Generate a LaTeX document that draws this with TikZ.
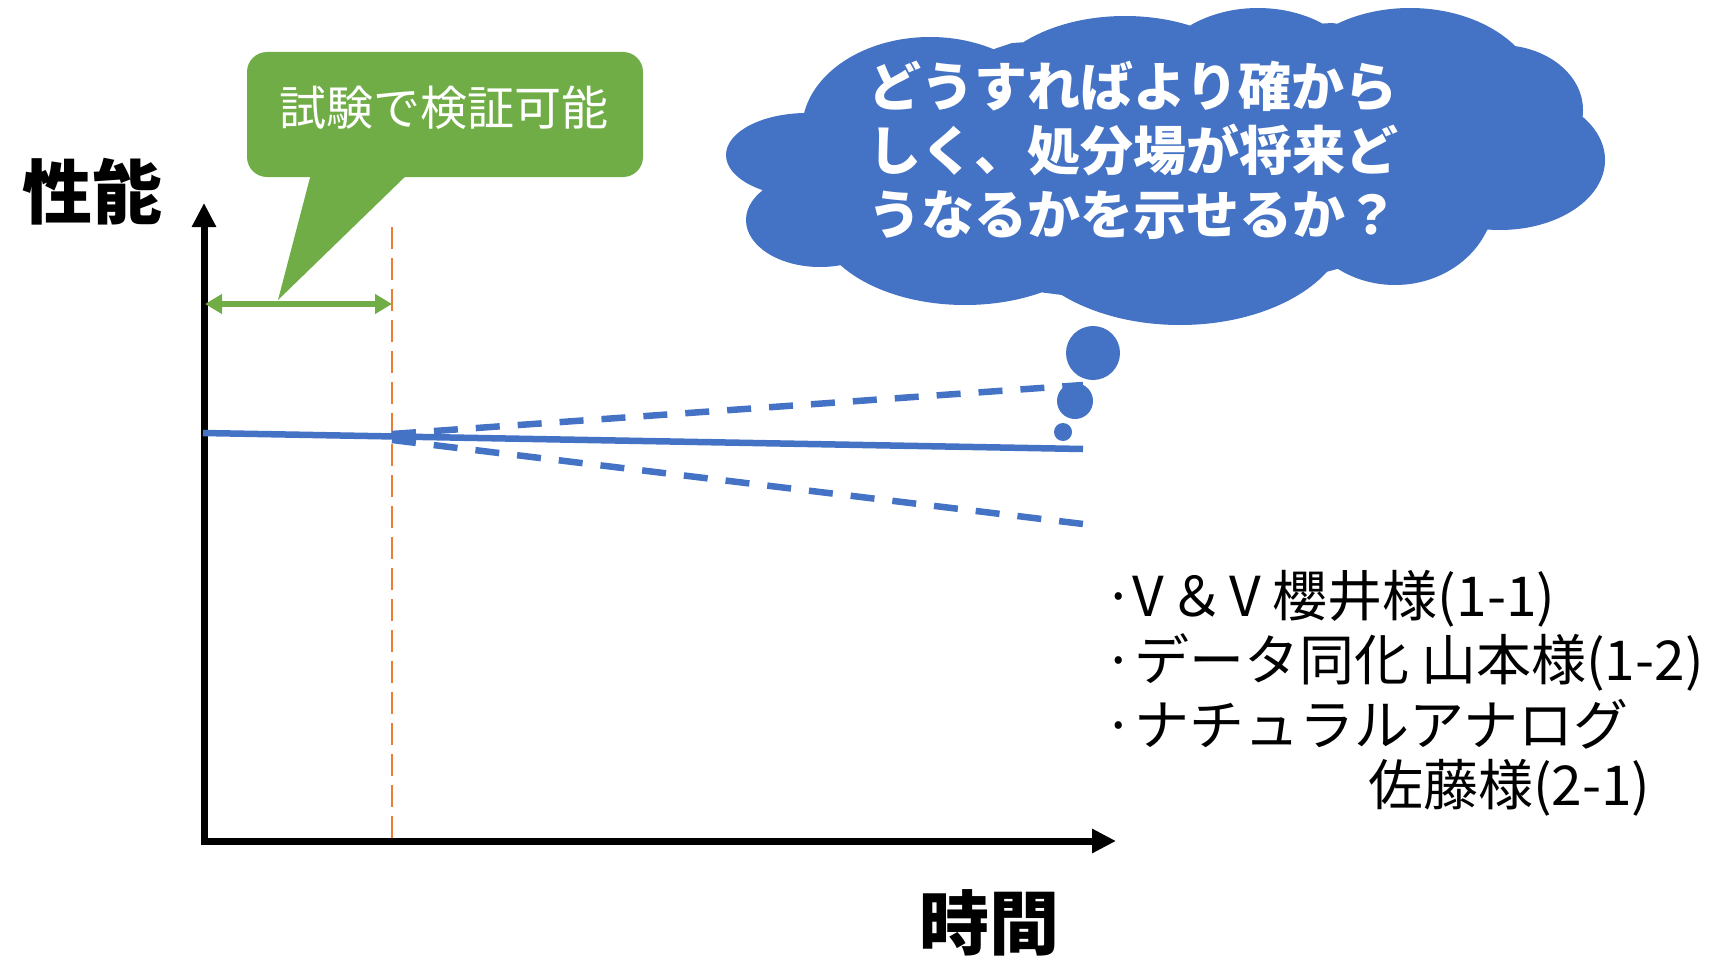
\documentclass[tikz,border=0pt]{standalone}
\usepackage{fontspec}
\newfontfamily\jp{Noto Sans CJK JP}
\usetikzlibrary{arrows.meta}
\definecolor{cblue}{HTML}{4472C4}
\definecolor{cgreen}{HTML}{70AD47}
\definecolor{corange}{HTML}{ED7D31}
\begin{document}
\begin{tikzpicture}[x=1pt,y=-1pt,
  axis/.style={line width=7pt,-{Triangle[length=24pt,width=23pt]}},
  bluesolid/.style={cblue,line width=6.5pt},
  bluedash/.style={cblue,line width=6.5pt,dash pattern=on 24pt off 18pt},
  listtxt/.style={anchor=west,inner sep=0pt,font=\jp\fontsize{55pt}{62pt}\selectfont},
  bigtxt/.style={inner sep=0pt,font=\jp\bfseries\fontsize{70pt}{80pt}\selectfont},
  bubble/.style={fill=cblue,circle,inner sep=0pt}]
\useasboundingbox (0,0) rectangle (1724,958);

% axes
\coordinate (O) at (204,841);
\coordinate (ytop) at (204,203);
\coordinate (xend) at (1116,841);
\draw[axis] (204,844.5) -- (ytop);
\draw[axis] (200.5,841) -- (xend);
\node[bigtxt] (perf) at (93,192) {性能};
\node[bigtxt] (time) at (989,923) {時間};

% orange dashed line
\coordinate (otop) at (392,227);
\coordinate (obot) at (392,838);
\draw[corange,line width=2.7pt,dash pattern=on 22pt off 9pt] (otop) -- (obot);

% green double arrow
\coordinate (ga) at (205,304);
\coordinate (gb) at (392,304);
\draw[cgreen,line width=5.5pt,{Triangle[length=17pt,width=19pt]}-{Triangle[length=17pt,width=19pt]}] (ga) -- (gb);

% callout
\fill[cgreen,rounded corners=20pt] (247,52) rectangle (643,177);
\fill[cgreen] (312,170) -- (412,170) -- (278,300) -- cycle;
\node[text=white,inner sep=0pt,font=\jp\fontsize{47pt}{56pt}\selectfont] (call) at (444,108) {試験で検証可能};

% blue lines
\coordinate (bl) at (203,433);
\coordinate (br) at (1083,449);
\coordinate (tipu) at (392,434);
\coordinate (tipd) at (392,440);
\coordinate (up) at (1083,385);
\coordinate (dn) at (1083,524);
\draw[bluesolid] (bl) -- (br);
\draw[bluedash] (tipu) -- (up);
\draw[bluedash] (tipd) -- (dn);

% thought bubbles
\node[bubble,minimum size=54pt] (b1) at (1093,353) {};
\node[bubble,minimum size=36pt] (b2) at (1075,401) {};
\node[bubble,minimum size=18pt] (b3) at (1063,432) {};

% cloud (union of puffs)
\fill[cblue]
  (805,113) -- (1012,43) -- (1183,32) -- (1332,23) -- (1503,47) -- (1577,120)
  -- (1485,230) -- (1307,277) -- (1062,295) -- (845,267) -- (768,193) -- cycle
  (807,155) ellipse (81 and 42)
  (820,220) ellipse (74 and 47)
  (930,130) ellipse (128 and 93)
  (1125,100) ellipse (140 and 84)
  (1258,90) ellipse (110 and 82)
  (1410,100) ellipse (130 and 92)
  (1500,110) ellipse (83 and 65)
  (1500,160) ellipse (105 and 70)
  (1395,195) ellipse (100 and 90)
  (1180,220) ellipse (169 and 105)
  (965,215) ellipse (150 and 90);
\node[text=white,align=center,inner sep=0pt,font=\jp\bfseries\fontsize{53pt}{64pt}\selectfont] (ctxt) at (1133,150) {どうすればより確から\\しく、処分場が将来ど\\うなるかを示せるか？};

% list
\node[listtxt] (l1) at (1103,599) {·V\hspace{5pt}＆\hspace{5pt}V 櫻井様(1-1)};
\node[listtxt] (l2) at (1103,662) {·データ同化 山本様(1-2)};
\node[listtxt] (l3) at (1103,724) {·ナチュラルアナログ};
\node[listtxt] (l4) at (1368,788) {佐藤様(2-1)};
\end{tikzpicture}
\end{document}
